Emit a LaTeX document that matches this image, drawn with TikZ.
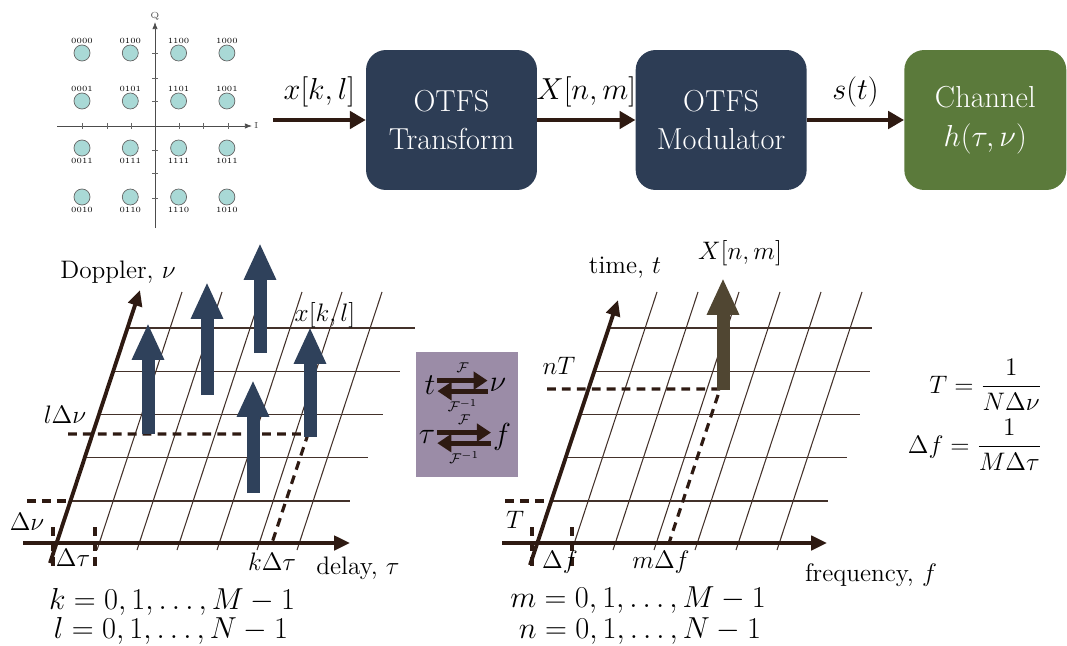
\documentclass[tikz,border=0pt]{standalone}
\usepackage{amsmath}
\usepackage{tikz}
\usetikzlibrary{positioning, calc, arrows.meta}
\definecolor{BlockColor}{HTML}{2D3D55}
\definecolor{ChanColor}{HTML}{5B7A3B}
\definecolor{StemColor}{HTML}{2F415B}
\definecolor{PeakColor}{HTML}{504632}
\definecolor{InkColor}{HTML}{2E1A12}
\definecolor{PairColor}{HTML}{9B8CA7}
\definecolor{DotColor}{HTML}{A9D9D6}
\tikzset{
    block/.style={
        rectangle,
        rounded corners=0.4cm,
        minimum width=3.42cm,
        minimum height=2.8cm,
        align=center,
        fill=BlockColor,
        text=white,
        font=\LARGE
    },
    chan/.style={block, fill=ChanColor, minimum width=3.24cm},
    flow/.style={draw=InkColor, line width=1.8pt, -{Triangle[width=10pt,length=9pt]}},
    stem/.style={draw=StemColor, line width=7.4pt, -{Triangle[width=17pt,length=21pt]}},
    peak/.style={stem, draw=PeakColor},
    axis/.style={draw=InkColor, line width=2.2pt, -{Triangle[width=8pt,length=9pt]}},
    grid line/.style={draw=InkColor!90, line width=0.6pt},
    marker/.style={draw=InkColor, line width=1.8pt, dash pattern=on 5pt off 3.5pt},
    dot/.style={circle, draw=black!60, fill=DotColor, minimum size=0.32cm, inner sep=0pt, line width=0.4pt},
    bits/.style={font=\fontsize{4.5}{5}\selectfont, inner sep=0.6pt},
    lbl/.style={font=\Large, inner sep=1pt},
    idxrange/.style={font=\fontsize{16}{18}\selectfont, inner sep=0pt},
    pair arrow/.style={draw=InkColor, line width=2.8pt, -{Triangle[width=10pt,length=8pt]}}
}
\begin{document}
\begin{tikzpicture}[x=0.02cm, y=-0.02cm]
\useasboundingbox (0,0) rectangle (1067,645);

% --- Constellation ---
\coordinate (i0) at (57,126);
\coordinate (i1) at (252,126);
\coordinate (q0) at (155,228);
\coordinate (q1) at (155,22);
\draw[black!70, -{Latex[length=4pt]}] (i0) -- (i1) node[right, font=\tiny, inner sep=1pt] (ilab) {I};
\draw[black!70, -{Latex[length=4pt]}] (q0) -- (q1) node[above, font=\tiny, inner sep=1pt] (qlab) {Q};
\foreach \x in {82,107,131,179,203,228} \draw[black!60] (\x,123) -- (\x,129);
\foreach \y in {53,78,101,150,173,198} \draw[black!60] (152,\y) -- (158,\y);

\foreach \b [count=\i from 0] in {0000,0100,1100,1000}
    \node[dot, label={[bits]above:\b}] (d1\i) at ({82+48.3*\i},53) {};
\foreach \b [count=\i from 0] in {0001,0101,1101,1001}
    \node[dot, label={[bits]above:\b}] (d2\i) at ({82+48.3*\i},101) {};
\foreach \b [count=\i from 0] in {0011,0111,1111,1011}
    \node[dot, label={[bits]below:\b}] (d3\i) at ({82+48.3*\i},148) {};
\foreach \b [count=\i from 0] in {0010,0110,1110,1010}
    \node[dot, label={[bits]below:\b}] (d4\i) at ({82+48.3*\i},197) {};

% --- Transmitter chain ---
\coordinate (src) at (273,120);
\node[block] (trans) at (451.5,120) {OTFS\\Transform};
\node[block, right=1.96cm of trans] (mod) {OTFS\\Modulator};
\node[chan, right=1.94cm of mod] (chan) {Channel\\$h(\tau,\nu)$};

\draw[flow] (src) -- (trans) node[midway, above=3pt, font=\LARGE] (xin) {$x[k,l]$};
\draw[flow] (trans) -- (mod) node[midway, above=3pt, font=\LARGE] (xtf) {$X[n,m]$};
\draw[flow] (mod) -- (chan) node[midway, above=3pt, font=\LARGE] (sig) {$s(t)$};

% --- Delay-Doppler grid ---
\foreach \i/\e in {0/350,1/368,2/383,3/400,4/415} {
    \pgfmathsetmacro\yy{501-43.25*\i}
    \draw[grid line] ({56.6+(543-\yy)*0.33},\yy) -- (\e,\yy);
}
\foreach \j in {0,...,5}
    \draw[grid line] ({97+40*\j},550) -- ({182+40*\j},292);

\coordinate (dd0) at (23,543);
\coordinate (dd1) at (350,543);
\coordinate (dp0) at (50,563);
\coordinate (dp1) at (140,290);
\draw[axis] (dd0) -- (dd1);
\draw[axis] (dp0) -- (dp1);

\draw[marker] (68,434) -- (308,434) -- (272,543);
\draw[marker] (27,501) -- (70,501);
\draw[marker] (53,527) -- (53,568);
\draw[marker] (95,527) -- (95,568);

\foreach \n/\x/\a/\b in {1/148/434/323, 2/207/395/282, 3/260/353/243, 4/253/493/380, 5/310/437/327} {
    \coordinate (s\n a) at (\x,\a);
    \coordinate (s\n b) at (\x,\b);
    \draw[stem] (s\n a) -- (s\n b);
}

\node[lbl] (dopp) at (118,272) {Doppler, $\nu$};
\node[lbl] (xkl) at (325,315) {$x[k,l]$};
\node[lbl] (ldnu) at (65,415) {$l\Delta\nu$};
\node[lbl] (dnu) at (27,522) {$\Delta\nu$};
\node[lbl] (dtau) at (73,558) {$\Delta\tau$};
\node[lbl] (kdtau) at (272,562) {$k\Delta\tau$};
\node[lbl] (delay) at (358,568) {delay, $\tau$};

% --- Fourier pairs ---
\node[fill=PairColor, minimum width=2.04cm, minimum height=2.5cm] (pairs) at (467,414.5) {};
\node[font=\LARGE, inner sep=0pt] (tt) at (430,385) {$t$};
\node[font=\LARGE, inner sep=0pt] (nu) at (498,385) {$\nu$};
\node[font=\LARGE, inner sep=0pt] (ta) at (427,437) {$\tau$};
\node[font=\LARGE, inner sep=0pt] (ff) at (502,437) {$f$};
\draw[pair arrow] ([xshift=1pt,yshift=2.5pt]tt.east) -- ([xshift=-1pt,yshift=2.5pt]nu.west)
    node[midway, above=0pt, font=\footnotesize] (f1) {$\mathcal{F}$};
\draw[pair arrow] ([xshift=-1pt,yshift=-3.5pt]nu.west) -- ([xshift=1pt,yshift=-3.5pt]tt.east)
    node[midway, below=0pt, font=\footnotesize] (fi1) {$\mathcal{F}^{-1}$};
\draw[pair arrow] ([xshift=1pt,yshift=2.5pt]ta.east) -- ([xshift=-1pt,yshift=2.5pt]ff.west)
    node[midway, above=0pt, font=\footnotesize] (f2) {$\mathcal{F}$};
\draw[pair arrow] ([xshift=-1pt,yshift=-3.5pt]ff.west) -- ([xshift=1pt,yshift=-3.5pt]ta.east)
    node[midway, below=0pt, font=\footnotesize] (fi2) {$\mathcal{F}^{-1}$};

% --- Time-frequency grid ---
\foreach \i/\e in {0/828,1/847,2/860,3/870,4/872} {
    \pgfmathsetmacro\yy{501-43.25*\i}
    \draw[grid line] ({537.3+(543-\yy)*0.33},\yy) -- (\e,\yy);
}
\foreach \j in {0,...,5}
    \draw[grid line] ({572+41*\j},550) -- ({657+41*\j},292);

\coordinate (tf0) at (502,543);
\coordinate (tf1) at (827,543);
\coordinate (tt0) at (530,565);
\coordinate (tt1) at (618,300);
\draw[axis] (tf0) -- (tf1);
\draw[axis] (tt0) -- (tt1);

\draw[marker] (547,389) -- (720,389) -- (669,543);
\draw[marker] (505,501) -- (551,501);
\draw[marker] (532,527) -- (532,568);
\draw[marker] (572,527) -- (572,568);

\coordinate (pka) at (723,390);
\coordinate (pkb) at (723,278);
\draw[peak] (pka) -- (pkb);

\node[lbl] (time) at (625,268) {time, $t$};
\node[lbl] (xnm) at (740,253) {$X[n,m]$};
\node[lbl] (nT) at (559,366) {$nT$};
\node[lbl] (TT) at (515,520) {$T$};
\node[lbl] (df) at (560,562) {$\Delta f$};
\node[lbl] (mdf) at (661,562) {$m\Delta f$};
\node[lbl] (freq) at (871,575) {frequency, $f$};

% --- Relations ---
\node[font=\Large, anchor=east] (tdef) at (1048,385) {$T=\dfrac{1}{N\Delta\nu}$};
\node[font=\Large, anchor=east] (fdef) at (1048,445) {$\Delta f=\dfrac{1}{M\Delta\tau}$};

\node[idxrange] (krange) at (172,602) {$k=0,1,\ldots,M-1$};
\node[idxrange] (lrange) at (171,631) {$l=0,1,\ldots,N-1$};
\node[idxrange] (mrange) at (638,600) {$m=0,1,\ldots,M-1$};
\node[idxrange] (nrange) at (640,631) {$n=0,1,\ldots,N-1$};

\end{tikzpicture}
\end{document}
